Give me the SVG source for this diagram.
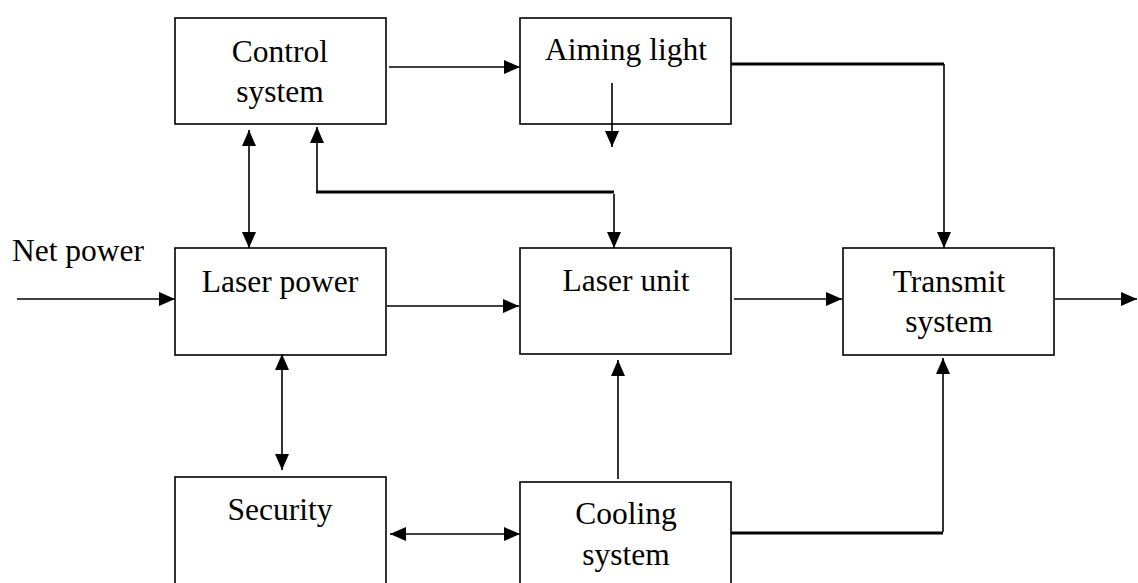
<svg xmlns="http://www.w3.org/2000/svg" width="1138" height="583" viewBox="0 0 1138 583">
<style>
.box{fill:#fff;stroke:#000;stroke-width:1.6}
.t{font-family:"Liberation Serif","Times New Roman",serif;font-size:31.5px;fill:#000;text-anchor:middle}
.c{fill:none;stroke:#000;stroke-width:1.6}
.k{fill:none;stroke:#000;stroke-width:3}
</style>
<defs>
<marker id="ah" markerWidth="16" markerHeight="14" refX="16" refY="7" orient="auto" markerUnits="userSpaceOnUse">
<path d="M0,0 L16,7 L0,14 Z" fill="#000"/>
</marker>
<marker id="as" markerWidth="16" markerHeight="14" refX="0" refY="7" orient="auto" markerUnits="userSpaceOnUse">
<path d="M16,0 L0,7 L16,14 Z" fill="#000"/>
</marker>
</defs>
<rect width="1138" height="583" fill="#fff"/>
<g id="control"><rect class="box" x="175" y="18" width="211" height="106"/><text class="t" x="280" y="62">Control</text><text class="t" x="280" y="102">system</text></g>
<g id="aiming"><rect class="box" x="520" y="18" width="211" height="106"/><text class="t" x="626" y="60">Aiming light</text></g>
<g id="laserpower"><rect class="box" x="175" y="248" width="211" height="107"/><text class="t" x="280" y="292">Laser power</text></g>
<g id="laserunit"><rect class="box" x="520" y="248" width="211" height="106"/><text class="t" x="626" y="291">Laser unit</text></g>
<g id="transmit"><rect class="box" x="843" y="248" width="211" height="107"/><text class="t" x="949" y="292">Transmit</text><text class="t" x="949" y="332">system</text></g>
<g id="security"><rect class="box" x="175" y="477" width="211" height="120"/><text class="t" x="280" y="520">Security</text></g>
<g id="cooling"><rect class="box" x="520" y="482" width="211" height="120"/><text class="t" x="626" y="524">Cooling</text><text class="t" x="626" y="565">system</text></g>
<g id="netpower"><text class="t" x="78" y="261">Net power</text></g>
<g id="connectors">
<line class="c" x1="389" y1="67" x2="520" y2="67" marker-end="url(#ah)"/>
<line class="c" x1="612" y1="83" x2="612" y2="147" marker-end="url(#ah)"/>
<line class="k" x1="731" y1="64" x2="944" y2="64"/>
<line class="c" x1="944" y1="64" x2="944" y2="248" marker-end="url(#ah)"/>
<line class="c" x1="249" y1="130" x2="249" y2="248" marker-start="url(#as)" marker-end="url(#ah)"/>
<line class="k" x1="614" y1="192" x2="316" y2="192"/>
<line class="c" x1="317" y1="193" x2="317" y2="127" marker-end="url(#ah)"/>
<line class="c" x1="614" y1="194" x2="614" y2="248" marker-end="url(#ah)"/>
<line class="c" x1="17" y1="299" x2="175" y2="299" marker-end="url(#ah)"/>
<line class="c" x1="387" y1="306" x2="519" y2="306" marker-end="url(#ah)"/>
<line class="c" x1="734" y1="299" x2="842" y2="299" marker-end="url(#ah)"/>
<line class="c" x1="1055" y1="299" x2="1137" y2="299" marker-end="url(#ah)"/>
<line class="c" x1="282" y1="354" x2="282" y2="470" marker-start="url(#as)" marker-end="url(#ah)"/>
<line class="c" x1="390" y1="534" x2="520" y2="534" marker-start="url(#as)" marker-end="url(#ah)"/>
<line class="c" x1="618" y1="479" x2="618" y2="360" marker-end="url(#ah)"/>
<line class="k" x1="731" y1="533" x2="943" y2="533"/>
<line class="c" x1="943" y1="532" x2="943" y2="358" marker-end="url(#ah)"/>
</g>
</svg>
